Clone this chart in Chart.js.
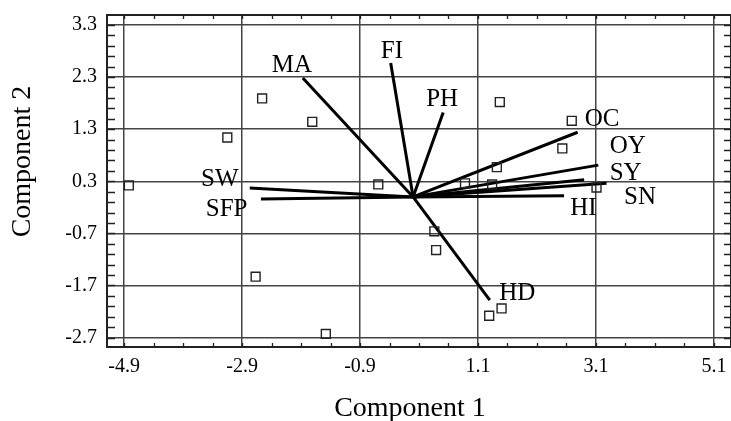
<!DOCTYPE html>
<html>
<head>
<meta charset="utf-8">
<script src="https://cdn.jsdelivr.net/npm/chart.js@4/dist/chart.umd.min.js"></script>
<style>
  html, body { margin: 0; padding: 0; background: #fff; }
  #wrap { width: 731px; height: 421px; }
</style>
</head>
<body>
<div id="wrap"><canvas id="c" width="731" height="421"></canvas></div>
<script>
// ---- data ----
const xTicks = [-4.9, -2.9, -0.9, 1.1, 3.1, 5.1];
const yTicks = [-2.7, -1.7, -0.7, 0.3, 1.3, 2.3, 3.3];

// observation scores (Component 1, Component 2)
const scoreX = [-2.56, -1.71, -3.15, -4.82, -0.59, 1.47, 2.69, 2.53, 1.42, 0.88, 1.34, 3.11, -2.67, -1.48, 0.36, 0.39, 1.50, 1.29];
const scoreY = [1.89, 1.44, 1.14, 0.22, 0.24, 1.82, 1.46, 0.93, 0.57, 0.26, 0.24, 0.18, -1.53, -2.63, -0.66, -1.02, -2.14, -2.28];

// variable loading vectors
const varNames = ['MA', 'FI', 'PH', 'OC', 'OY', 'SY', 'SN', 'HI', 'SW', 'SFP', 'HD'];
const varX = [-1.87, -0.38, 0.51, 2.79, 3.14, 2.90, 3.28, 2.56, -2.77, -2.58, 1.30];
const varY = [2.28, 2.57, 1.62, 1.24, 0.61, 0.33, 0.26, 0.02, 0.17, -0.04, -1.98];

// ---- label placement (pixel offsets from vector tip; style only) ----
const labelOffsets = [[-11, -5.6], [1.2, -5], [-1, -6], [24.5, -6.5], [29.4, -12], [41.5, 0.5], [33.5, 21], [19.3, 19], [-30, -2.3], [-34.3, 17.4], [27.5, 0]];

const SERIF = '"Liberation Serif", "Times New Roman", serif';
Chart.defaults.font.family = SERIF;
Chart.defaults.color = '#000';

const datasets = [{
  label: 'scores',
  data: scoreX.map((x, i) => ({ x: x, y: scoreY[i] })),
  pointStyle: 'rect',
  pointRadius: 6.3,
  pointBorderWidth: 1.4,
  pointBorderColor: '#222',
  pointBackgroundColor: 'rgba(0,0,0,0)',
  showLine: false,
  order: 1
}];
varNames.forEach((n, i) => {
  datasets.push({
    label: n,
    data: [{ x: 0, y: 0 }, { x: varX[i], y: varY[i] }],
    showLine: true,
    borderColor: '#000',
    borderWidth: 3,
    pointRadius: 0,
    fill: false,
    order: 2
  });
});

const framePlugin = {
  id: 'frame',
  afterDraw(chart) {
    const { ctx, chartArea: a, scales: { x, y } } = chart;
    ctx.save();
    ctx.strokeStyle = '#222';
    ctx.lineWidth = 1.3;
    ctx.beginPath();
    for (let v = xTicks[0] - 0.5; v <= x.max; v += 0.5) {
      if (v < x.min) continue;
      const px = Math.round(x.getPixelForValue(v)) + 0.5;
      ctx.moveTo(px, a.bottom); ctx.lineTo(px, a.bottom - 4);
      ctx.moveTo(px, a.top); ctx.lineTo(px, a.top + 4);
    }
    for (let v = yTicks[0] - 0.2; v <= y.max + 1e-9; v += 0.2) {
      if (v < y.min) continue;
      const py = Math.round(y.getPixelForValue(v)) + 0.5;
      ctx.moveTo(a.left, py); ctx.lineTo(a.left + 8, py);
      ctx.moveTo(a.right, py); ctx.lineTo(a.right - 7, py);
    }
    ctx.stroke();
    ctx.strokeStyle = '#222';
    ctx.lineWidth = 2;
    ctx.strokeRect(a.left, a.top, a.right - a.left, a.bottom - a.top);

    ctx.fillStyle = '#000';
    ctx.font = '25px ' + SERIF;
    ctx.textAlign = 'center';
    ctx.textBaseline = 'alphabetic';
    varNames.forEach((n, i) => {
      const px = x.getPixelForValue(varX[i]) + labelOffsets[i][0];
      const py = y.getPixelForValue(varY[i]) + labelOffsets[i][1];
      ctx.fillText(n, px, py);
    });

    ctx.font = '28px ' + SERIF;
    ctx.fillText('Component 1', 410, 416);
    ctx.translate(30, 161.5);
    ctx.rotate(-Math.PI / 2);
    ctx.fillText('Component 2', 0, 0);
    ctx.restore();
  }
};

new Chart(document.getElementById('c'), {
  type: 'scatter',
  data: { datasets: datasets },
  options: {
    responsive: false,
    devicePixelRatio: 1,
    animation: false,
    layout: { autoPadding: false, padding: { top: 15, left: 0, right: 0, bottom: 0 } },
    plugins: { legend: { display: false }, tooltip: { enabled: false } },
    scales: {
      x: {
        type: 'linear',
        min: -5.19,
        max: 5.39,
        afterBuildTicks: s => { s.ticks = xTicks.map(v => ({ value: v })); },
        afterFit: s => { s.height = 74; s.paddingLeft = 0; s.paddingRight = 0; },
        ticks: {
          callback: v => Number(v).toFixed(1),
          font: { family: SERIF, size: 20 },
          color: '#000',
          padding: 8,
          maxRotation: 0,
          autoSkip: false
        },
        grid: { color: '#444', lineWidth: 1.5, drawTicks: false },
        border: { display: false }
      },
      y: {
        type: 'linear',
        min: -2.88,
        max: 3.49,
        afterBuildTicks: s => { s.ticks = yTicks.map(v => ({ value: v })); },
        afterFit: s => { s.width = 107; s.paddingTop = 0; s.paddingBottom = 0; },
        ticks: {
          callback: v => Number(v).toFixed(1),
          font: { family: SERIF, size: 20 },
          color: '#000',
          padding: 10,
          autoSkip: false
        },
        grid: { color: '#444', lineWidth: 1.5, drawTicks: false },
        border: { display: false }
      }
    }
  },
  plugins: [framePlugin]
});
</script>
</body>
</html>
